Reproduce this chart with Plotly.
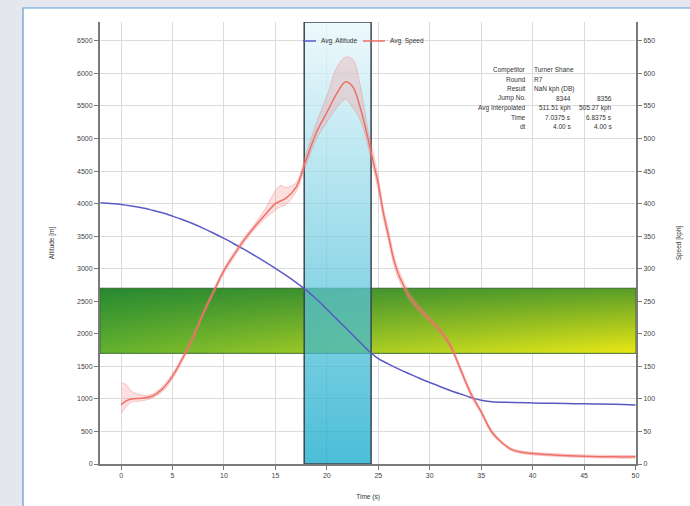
import plotly.graph_objects as go

# ---------------- data ----------------
alt_time = [-2, -1, 0, 1, 2, 3, 4, 5, 6, 7, 8, 9, 10, 11, 12, 13, 14, 15, 16, 17, 18, 19, 20,
            21, 22, 23, 24, 25, 26, 27, 28, 29, 30, 31, 32, 33, 34, 35, 36, 38, 40, 42, 44, 46, 48, 50]
altitude = [4015, 4002, 3988, 3965, 3935, 3900, 3860, 3808, 3752, 3690, 3620, 3545, 3465, 3380,
            3292, 3200, 3105, 3005, 2900, 2790, 2672, 2530, 2378, 2222, 2065, 1905, 1748, 1620,
            1535, 1458, 1387, 1317, 1252, 1190, 1130, 1075, 1022, 978, 957, 945, 938, 932, 927,
            922, 916, 905]

spd_time = [0, 0.5, 1, 2, 3, 4, 5, 6, 7, 8, 9, 10, 11, 12, 13, 14, 15, 15.5, 16, 17, 18, 19, 20,
            21, 21.8, 22.5, 23.2, 24, 24.5, 25, 25.5, 26, 26.5, 27, 27.5, 28, 29, 30, 31, 32, 33,
            34, 35, 36, 37, 38, 39, 40, 42, 45, 48, 50]
spd_mean = [91, 97, 100, 101, 104, 115, 135, 163, 195, 232, 265, 297, 322, 345, 365, 383, 400,
            404, 408, 425, 468, 510, 540, 570, 587, 580, 550, 500, 465, 430, 385, 350, 314, 290,
            273, 258, 238, 222, 205, 182, 145, 108, 80, 50, 33, 22, 18, 16, 14, 12, 11, 11]
spd_low = [78, 88, 95, 97, 101, 111, 131, 159, 191, 228, 261, 293, 318, 341, 361, 377, 390,
           395, 398, 418, 460, 500, 525, 548, 560, 548, 530, 488, 455, 420, 376, 342, 306, 283,
           267, 252, 233, 218, 201, 178, 141, 104, 77, 47, 31, 20, 16, 14, 12, 10, 9, 9]
spd_high = [125, 122, 112, 106, 107, 119, 139, 167, 199, 236, 269, 301, 326, 349, 369, 392, 420,
            428, 425, 432, 478, 525, 565, 610, 625, 622, 585, 512, 478, 440, 394, 360, 322, 297,
            279, 264, 243, 226, 209, 186, 149, 112, 83, 53, 35, 24, 20, 18, 16, 14, 13, 13]

window_start, window_end = 17.8, 24.3        # seconds
band_low, band_high = 1700, 2700             # metres

x_ticks = [0, 5, 10, 15, 20, 25, 30, 35, 40, 45, 50]
alt_ticks = list(range(0, 7000, 500))
spd_ticks = list(range(0, 700, 50))

info_rows = [
    ("Competitor", "Turner Shane", None),
    ("Round", "R7", None),
    ("Result", "NaN kph (DB)", None),
    ("Jump No.", "8344", "8356"),
    ("Avg Interpolated", "511.51 kph", "505.27 kph"),
    ("Time", "7.0375 s", "6.8375 s"),
    ("dt", "4.00 s", "4.00 s"),
]

# ---------------- layout helpers ----------------
W, H = 690, 506
L, R, T, B = 100, 636, 22, 464
X_RANGE = [-2.05, 50.05]
Y_RANGE = [0, 6790]


def px(xp):
    return (xp - L) / (R - L)


def py(yp):
    return (B - yp) / (B - T)


FONT = "Liberation Sans, Arial, sans-serif"
ALT_COLOR = "#5a5ac4"
SPD_COLOR = "#ef6f66"

fig = go.Figure()

# band (2D gradient: horizontal base + vertical darkening overlay)
bx = [X_RANGE[0], X_RANGE[1], X_RANGE[1], X_RANGE[0], X_RANGE[0]]
by = [band_low, band_low, band_high, band_high, band_low]
fig.add_trace(go.Scatter(
    x=bx, y=by, mode="lines", fill="toself",
    line=dict(color="rgba(0,0,0,0)", width=0),
    fillgradient=dict(type="horizontal",
                      colorscale=[[0, "rgb(100,178,46)"], [0.5, "rgb(172,206,36)"],
                                  [1, "rgb(234,232,20)"]]),
    hoverinfo="skip", showlegend=False))
fig.add_trace(go.Scatter(
    x=bx, y=by, mode="lines", fill="toself",
    line=dict(color="#3e6b36", width=1),
    fillgradient=dict(type="vertical",
                      colorscale=[[0, "rgba(0,110,50,0)"], [1, "rgba(0,112,52,0.62)"]]),
    hoverinfo="skip", showlegend=False))

# window rectangle
wx = [window_start, window_end, window_end, window_start, window_start]
wy = [Y_RANGE[0], Y_RANGE[0], Y_RANGE[1], Y_RANGE[1], Y_RANGE[0]]
fig.add_trace(go.Scatter(
    x=wx, y=wy, mode="lines", fill="toself",
    line=dict(color="#3b4650", width=1.5),
    fillgradient=dict(type="vertical",
                      colorscale=[[0, "rgba(5,165,200,0.72)"], [1, "rgba(232,247,252,0.72)"]]),
    hoverinfo="skip", showlegend=False))

# speed spread
fig.add_trace(go.Scatter(
    x=spd_time, y=spd_low, yaxis="y2", mode="lines",
    line=dict(color="rgba(240,120,120,0.45)", width=0.8, shape="spline"),
    hoverinfo="skip", showlegend=False))
fig.add_trace(go.Scatter(
    x=spd_time, y=spd_high, yaxis="y2", mode="lines", fill="tonexty",
    fillcolor="rgba(245,140,140,0.28)",
    line=dict(color="rgba(240,120,120,0.45)", width=0.8, shape="spline"),
    hoverinfo="skip", showlegend=False))

# speed mean
fig.add_trace(go.Scatter(
    x=spd_time, y=spd_mean, yaxis="y2", mode="lines", name="Avg. Speed",
    line=dict(color=SPD_COLOR, width=1.5, shape="spline"), showlegend=False))

# altitude
fig.add_trace(go.Scatter(
    x=alt_time, y=altitude, mode="lines", name="Avg. Altitude",
    line=dict(color=ALT_COLOR, width=1.5, shape="spline"), showlegend=False))

# ---------------- decorations ----------------
shapes = [
    dict(type="rect", xref="paper", yref="paper", layer="below",
         x0=px(23), x1=px(700), y0=py(520), y1=py(8),
         fillcolor="white", line=dict(color="#5b9bd5", width=1.2)),
    dict(type="line", xref="paper", yref="paper", x0=px(303), x1=px(316), y0=py(41), y1=py(41),
         line=dict(color=ALT_COLOR, width=1.5)),
    dict(type="line", xref="paper", yref="paper", x0=px(363), x1=px(385), y0=py(41), y1=py(41),
         line=dict(color=SPD_COLOR, width=1.5)),
]

annotations = [
    dict(xref="paper", yref="paper", x=px(319), y=py(41), text="Avg. Altitude",
         showarrow=False, xanchor="left", yanchor="middle",
         font=dict(size=6.5, color="#333", family=FONT)),
    dict(xref="paper", yref="paper", x=px(388), y=py(41), text="Avg. Speed",
         showarrow=False, xanchor="left", yanchor="middle",
         font=dict(size=6.5, color="#333", family=FONT)),
]

row_y0, row_dy = 70, 9.4
for i, (lab, v1, v2) in enumerate(info_rows):
    yy = py(row_y0 + i * row_dy)
    annotations.append(dict(xref="paper", yref="paper", x=px(528), y=yy, text=lab,
                            showarrow=False, xanchor="right", yanchor="middle",
                            font=dict(size=6.5, color="#333", family=FONT)))
    if v2 is None:
        annotations.append(dict(xref="paper", yref="paper", x=px(532), y=yy, text=v1,
                                showarrow=False, xanchor="left", yanchor="middle",
                                font=dict(size=6.5, color="#333", family=FONT)))
    else:
        annotations.append(dict(xref="paper", yref="paper", x=px(573), y=yy, text=v1,
                                showarrow=False, xanchor="right", yanchor="middle",
                                font=dict(size=6.5, color="#333", family=FONT)))
        annotations.append(dict(xref="paper", yref="paper", x=px(614), y=yy, text=v2,
                                showarrow=False, xanchor="right", yanchor="middle",
                                font=dict(size=6.5, color="#333", family=FONT)))

axis_common = dict(
    showline=True, linecolor="#7a7a7a", linewidth=2,
    ticks="outside", ticklen=4, tickcolor="#7a7a7a", tickwidth=1,
    tickfont=dict(size=7, color="#444", family=FONT),
    zeroline=False, automargin=False,
)

fig.update_layout(
    width=W, height=H,
    margin=dict(l=L, r=W - R, t=T, b=H - B, pad=0),
    paper_bgcolor="#e4e8ee",
    plot_bgcolor="white",
    font=dict(family=FONT, size=7, color="#444"),
    showlegend=False,
    xaxis=dict(range=X_RANGE, tickvals=x_ticks, showgrid=True, gridcolor="#dcdcdc", gridwidth=1,
               title=dict(text="Time (s)", font=dict(size=6.5, color="#333"), standoff=16),
               **axis_common),
    yaxis=dict(range=Y_RANGE, tickvals=alt_ticks, showgrid=True, gridcolor="#dcdcdc", gridwidth=1,
               title=dict(text="Altitude [m]", font=dict(size=6.5, color="#333"), standoff=22),
               **axis_common),
    yaxis2=dict(range=[Y_RANGE[0] / 10, Y_RANGE[1] / 10], tickvals=spd_ticks, overlaying="y",
                side="right", showgrid=False,
                title=dict(text="Speed [kph]", font=dict(size=6.5, color="#333"), standoff=22),
                **axis_common),
    shapes=shapes,
    annotations=annotations,
)

fig.write_html("out.html", config={"displayModeBar": False},
               post_script="document.body.style.margin='0';document.body.style.background='#e4e8ee';")
